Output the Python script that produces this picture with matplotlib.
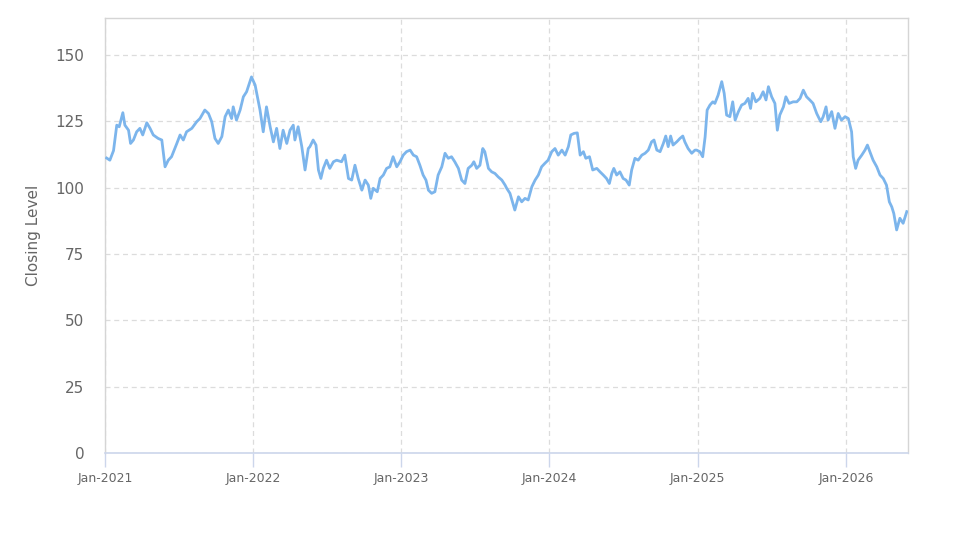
import matplotlib
matplotlib.use("Agg")
import matplotlib.pyplot as plt
import matplotlib.dates as mdates
import pandas as pd

dates = [
    "2021-01-05", "2021-01-13", "2021-01-22", "2021-01-30", "2021-02-05", "2021-02-14", "2021-02-19", "2021-02-28",
    "2021-03-05", "2021-03-12", "2021-03-20", "2021-03-28", "2021-04-04", "2021-04-14", "2021-04-22", "2021-04-30",
    "2021-05-12", "2021-05-21", "2021-05-29", "2021-06-06", "2021-06-14", "2021-06-27", "2021-07-05", "2021-07-13",
    "2021-07-21", "2021-08-03", "2021-08-15", "2021-08-23", "2021-09-04", "2021-09-13", "2021-09-21", "2021-09-29",
    "2021-10-07", "2021-10-16", "2021-10-24", "2021-11-01", "2021-11-09", "2021-11-13", "2021-11-21", "2021-11-30",
    "2021-12-08", "2021-12-16", "2021-12-28", "2022-01-06", "2022-01-10", "2022-01-18", "2022-01-26", "2022-02-03",
    "2022-02-12", "2022-02-20", "2022-02-28", "2022-03-08", "2022-03-16", "2022-03-25", "2022-04-02", "2022-04-10",
    "2022-04-14", "2022-04-22", "2022-05-01", "2022-05-09", "2022-05-17", "2022-05-21", "2022-05-29", "2022-06-05",
    "2022-06-11", "2022-06-17", "2022-06-23", "2022-07-01", "2022-07-09", "2022-07-18", "2022-07-26", "2022-08-07",
    "2022-08-15", "2022-08-24", "2022-09-01", "2022-09-09", "2022-09-17", "2022-09-26", "2022-10-04", "2022-10-12",
    "2022-10-18", "2022-10-24", "2022-11-03", "2022-11-10", "2022-11-18", "2022-11-26", "2022-12-04", "2022-12-12",
    "2022-12-21", "2022-12-29", "2023-01-06", "2023-01-14", "2023-01-23", "2023-01-31", "2023-02-08", "2023-02-16",
    "2023-02-24", "2023-03-03", "2023-03-09", "2023-03-17", "2023-03-25", "2023-04-02", "2023-04-11", "2023-04-19",
    "2023-04-27", "2023-05-05", "2023-05-13", "2023-05-22", "2023-05-30", "2023-06-07", "2023-06-15", "2023-06-24",
    "2023-06-29", "2023-07-06", "2023-07-14", "2023-07-21", "2023-07-26", "2023-08-04", "2023-08-12", "2023-08-20",
    "2023-08-28", "2023-09-06", "2023-09-14", "2023-09-18", "2023-09-26", "2023-10-08", "2023-10-17", "2023-10-25",
    "2023-11-02", "2023-11-10", "2023-11-19", "2023-11-27", "2023-12-05", "2023-12-13", "2023-12-21", "2023-12-29",
    "2024-01-07", "2024-01-15", "2024-01-23", "2024-02-01", "2024-02-09", "2024-02-17", "2024-02-23", "2024-03-02",
    "2024-03-10", "2024-03-17", "2024-03-25", "2024-03-31", "2024-04-09", "2024-04-17", "2024-04-27", "2024-05-05",
    "2024-05-13", "2024-05-21", "2024-05-28", "2024-06-03", "2024-06-08", "2024-06-15", "2024-06-23", "2024-07-01",
    "2024-07-08", "2024-07-16", "2024-07-22", "2024-07-30", "2024-08-07", "2024-08-16", "2024-08-24", "2024-09-01",
    "2024-09-09", "2024-09-15", "2024-09-22", "2024-09-30", "2024-10-08", "2024-10-14", "2024-10-20", "2024-10-26",
    "2024-11-01", "2024-11-10", "2024-11-18", "2024-11-25", "2024-11-30", "2024-12-08", "2024-12-17", "2024-12-25",
    "2024-12-29", "2025-01-06", "2025-01-13", "2025-01-19", "2025-01-24", "2025-01-31", "2025-02-07", "2025-02-12",
    "2025-02-20", "2025-03-01", "2025-03-07", "2025-03-13", "2025-03-21", "2025-03-28", "2025-04-03", "2025-04-11",
    "2025-04-19", "2025-04-27", "2025-05-05", "2025-05-11", "2025-05-16", "2025-05-24", "2025-06-03", "2025-06-11",
    "2025-06-18", "2025-06-24", "2025-07-02", "2025-07-10", "2025-07-16", "2025-07-22", "2025-07-31", "2025-08-06",
    "2025-08-14", "2025-08-24", "2025-09-02", "2025-09-10", "2025-09-18", "2025-09-26", "2025-10-04", "2025-10-12",
    "2025-10-21", "2025-10-31", "2025-11-06", "2025-11-13", "2025-11-18", "2025-11-27", "2025-12-05", "2025-12-13",
    "2025-12-21", "2025-12-30", "2026-01-07", "2026-01-15", "2026-01-19", "2026-01-25", "2026-01-31", "2026-02-09",
    "2026-02-17", "2026-02-23", "2026-03-01", "2026-03-09", "2026-03-18", "2026-03-26", "2026-04-03", "2026-04-11",
    "2026-04-18", "2026-04-24", "2026-04-29", "2026-05-06", "2026-05-14", "2026-05-22", "2026-05-31",
]

closing = [
    111.2, 110.4, 114.0, 123.6, 123.0, 128.3, 123.6, 121.7,
    116.7, 118.0, 121.1, 122.4, 119.9, 124.5, 122.4, 119.9,
    118.6, 118.0, 107.9, 110.4, 111.7, 116.7, 119.9, 118.0,
    121.1, 122.4, 124.9, 126.1, 129.3, 128.0, 124.9, 118.6,
    116.7, 119.3, 126.8, 129.3, 126.1, 130.5, 125.5, 129.3,
    134.3, 136.2, 141.8, 138.7, 135.6, 129.3, 121.1, 130.5,
    123.0, 117.3, 122.4, 114.8, 121.7, 116.7, 121.7, 123.6,
    118.0, 123.0, 115.5, 106.7, 114.8, 115.5, 118.0, 116.1,
    106.7, 103.5, 107.3, 110.4, 107.3, 109.8, 110.4, 109.8,
    112.3, 103.5, 102.9, 108.5, 103.5, 99.1, 102.9, 101.0,
    96.0, 99.8, 98.5, 103.5, 104.8, 107.3, 107.9, 111.7,
    107.9, 109.8, 112.3, 113.6, 114.2, 112.3, 111.7, 108.5,
    104.8, 102.9, 99.1, 97.9, 98.5, 104.8, 107.9, 113.0,
    111.1, 111.7, 109.8, 107.3, 102.9, 101.6, 107.3, 108.5,
    109.8, 107.3, 108.5, 114.8, 113.6, 107.3, 106.0, 105.4,
    104.1, 102.9, 101.0, 99.8, 97.9, 91.6, 96.6, 94.7,
    96.0, 95.4, 100.4, 102.9, 104.8, 107.9, 109.2, 110.4,
    113.6, 114.8, 112.3, 114.2, 112.3, 115.5, 119.9, 120.5,
    120.7, 112.3, 113.6, 111.1, 111.7, 106.7, 107.3, 106.0,
    104.8, 103.5, 101.6, 105.4, 107.3, 104.8, 106.0, 103.5,
    102.9, 101.0, 106.7, 111.1, 110.4, 112.3, 113.0, 114.2,
    117.3, 118.0, 114.2, 113.6, 116.7, 119.5, 115.5, 119.5,
    116.1, 117.3, 118.6, 119.5, 117.3, 114.8, 113.0, 114.2,
    114.2, 113.6, 111.7, 119.2, 129.3, 131.2, 132.4, 131.8,
    134.9, 140.0, 135.6, 127.4, 126.8, 132.4, 125.5, 128.7,
    131.2, 131.8, 133.7, 129.9, 135.6, 132.4, 133.7, 136.2,
    133.1, 138.1, 134.3, 131.8, 121.7, 127.4, 130.5, 134.3,
    131.8, 132.4, 132.4, 133.7, 136.8, 134.3, 133.1, 131.8,
    128.0, 124.9, 126.8, 130.5, 125.5, 128.7, 122.4, 128.0,
    125.5, 126.8, 126.1, 121.1, 111.7, 107.3, 110.4, 112.3,
    114.2, 116.1, 113.6, 110.4, 107.9, 104.8, 103.5, 101.0,
    94.7, 92.8, 90.3, 84.1, 88.5, 86.6, 91.0,
]

y_ticks = [0, 25, 50, 75, 100, 125, 150]
x_tick_years = ["2021-01-01", "2022-01-01", "2023-01-01", "2024-01-01", "2025-01-01", "2026-01-01"]
y_label = "Closing Level"

x = pd.to_datetime(dates)
xt = pd.to_datetime(x_tick_years)

fig = plt.figure(figsize=(9.73, 5.47), dpi=100)
ax = fig.add_axes([105 / 973, 1 - 453 / 547, (908 - 105) / 973, (453 - 18) / 547])

ax.plot(x, closing, color="#7cb5ec", linewidth=2.0, solid_joinstyle="round", zorder=3)

ax.set_xlim(pd.Timestamp("2021-01-01"), pd.Timestamp("2026-06-03"))
ax.set_ylim(0, 164)
ax.set_yticks(y_ticks)
ax.set_xticks(xt)
ax.xaxis.set_major_formatter(mdates.DateFormatter("%b-%Y"))

ax.grid(True, color="#dcdcdc", linestyle=(0, (4, 3)), linewidth=0.9, zorder=0)

for s in ["left", "top", "right"]:
    ax.spines[s].set_color("#d5d5d5")
    ax.spines[s].set_linewidth(1.0)
ax.spines["bottom"].set_color("#ccd6eb")
ax.spines["bottom"].set_linewidth(1.2)

ax.tick_params(axis="y", length=0, pad=15, labelsize=11, labelcolor="#666666")
ax.tick_params(axis="x", length=10, width=1.0, color="#ccd6eb", pad=4, labelsize=9, labelcolor="#666666")

ax.set_ylabel(y_label, fontsize=11, color="#666666", labelpad=10)

fig.savefig("out.png", dpi=100, facecolor="white")
